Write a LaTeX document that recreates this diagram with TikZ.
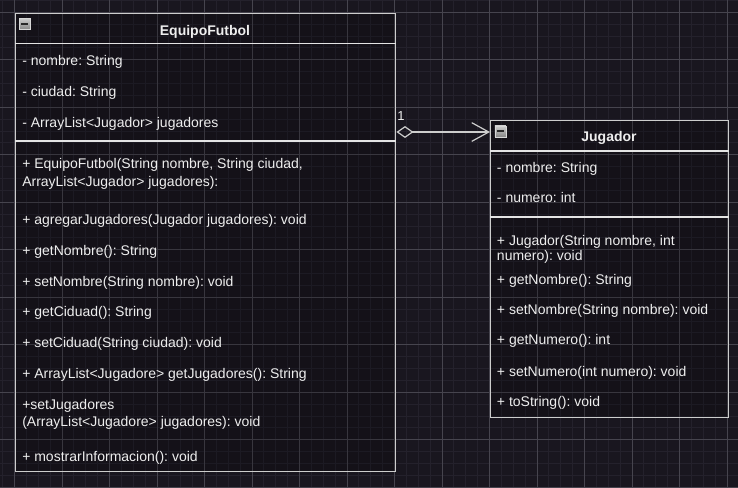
\documentclass[tikz,border=0pt]{standalone}
\usepackage{fontspec}
\setmainfont{Liberation Sans}
\usetikzlibrary{arrows.meta}
\definecolor{bg}{RGB}{25,22,31}
\definecolor{gminor}{RGB}{36,33,44}
\definecolor{gmajor}{RGB}{70,68,78}
\definecolor{txt}{RGB}{238,238,238}
\definecolor{bord}{RGB}{205,205,205}
\definecolor{sepc}{RGB}{228,228,228}
\definecolor{iconfill}{RGB}{170,170,170}
\definecolor{iconbord}{RGB}{215,215,215}
\definecolor{icondash}{RGB}{40,40,40}
\frenchspacing
\begin{document}
\begin{tikzpicture}[x=0.75pt,y=-0.75pt,
  minorline/.style={draw=gminor, line width=0.75pt},
  majorline/.style={draw=gmajor, line width=0.6pt},
  classbox/.style={rectangle, draw=bord, line width=1.1pt, fill=black, fill opacity=0.2, text opacity=1, inner sep=0pt, anchor=north west},
  sepline/.style={draw=sepc, line width=1.1pt},
  member/.style={anchor=base west, inner sep=0pt, text=txt, font=\fontsize{10.5pt}{12.6pt}\selectfont},
  ctitle/.style={anchor=base, inner sep=0pt, text=txt, font=\fontsize{10.5pt}{12.6pt}\selectfont\bfseries},
  minusicon/.style={rectangle, draw=iconbord, line width=0.5pt, top color=iconfill!60!white, bottom color=iconfill!80!black, minimum width=8.25pt, minimum height=8.25pt, inner sep=0pt, anchor=north west,
    path picture={\draw[icondash, line width=1.3pt] ([xshift=1.6pt]path picture bounding box.west) -- ([xshift=-1.6pt]path picture bounding box.east);}},
  assoc/.style={draw=bord, line width=0.9pt, {Diamond[open, length=12.75pt, width=9pt, line width=0.9pt]}-{Straight Barb[length=12.75pt, width=14pt, line width=0.9pt]}},
  mult/.style={anchor=base west, inner sep=0pt, text=txt, font=\fontsize{9.75pt}{11pt}\selectfont}
]
\useasboundingbox (0,0) rectangle (738,487);
\fill[bg] (0,0) rectangle (738,487);
% grid
\foreach \i in {-1,...,61} {\draw[minorline] ({14.5+\i*11.875},0) -- ({14.5+\i*11.875},487);}
\foreach \i in {-1,...,40} {\draw[minorline] (0,{12.3+\i*11.875}) -- (738,{12.3+\i*11.875});}
\foreach \i in {0,...,15} {\draw[majorline] ({14.5+\i*47.5},0) -- ({14.5+\i*47.5},487);}
\foreach \i in {0,...,10} {\draw[majorline] (0,{12.3+\i*47.5}) -- (738,{12.3+\i*47.5});}

% ---------- EquipoFutbol ----------
\node[classbox, minimum width=285pt, minimum height=343.5pt] (equipo) at (15,13) {};
\node[minusicon] (iconA) at (19,18) {};
\node[ctitle] (tA) at (205,35) {EquipoFutbol};
\draw[sepline] (equipo.west |- 0,43.5) -- (equipo.east |- 0,43.5);
\node[member] (a1) at (22,65.3) {- nombre: String};
\node[member] (a2) at (22,96.3) {- ciudad: String};
\node[member] (a3) at (22,127.3) {- ArrayList<Jugador> jugadores};
\draw[sepline] (equipo.west |- 0,141) -- (equipo.east |- 0,141);
\node[member] (m1a) at (22,168.3) {+ EquipoFutbol(String nombre, String ciudad,};
\node[member] (m1b) at (22,186) {ArrayList<Jugador> jugadores):};
\node[member] (m2) at (22,224.6) {+ agregarJugadores(Jugador jugadores): void};
\node[member] (m3) at (22,255.3) {+ getNombre(): String};
\node[member] (m4) at (22,286) {+ setNombre(String nombre): void};
\node[member] (m5) at (22,316.7) {+ getCiduad(): String};
\node[member] (m6) at (22,347.3) {+ setCiduad(String ciudad): void};
\node[member] (m7) at (22,378.3) {+ ArrayList<Jugadore> getJugadores(): String};
\node[member] (m8a) at (22,409.3) {+setJugadores};
\node[member] (m8b) at (22,426.7) {(ArrayList<Jugadore> jugadores): void};
\node[member] (m9) at (22,461.7) {+ mostrarInformacion(): void};

% ---------- Jugador ----------
\node[classbox, minimum width=178.5pt, minimum height=222.4pt] (jugador) at (490,120) {};
\node[minusicon] (iconB) at (494.5,125.5) {};
\node[ctitle] (tB) at (609,141) {Jugador};
\draw[sepline] (jugador.west |- 0,151) -- (jugador.east |- 0,151);
\node[member] (b1) at (496.7,172.7) {- nombre: String};
\node[member] (b2) at (496.7,202.7) {- numero: int};
\draw[sepline] (jugador.west |- 0,217) -- (jugador.east |- 0,217);
\node[member] (n1a) at (496.7,245) {+ Jugador(String nombre, int};
\node[member] (n1b) at (496.7,260.7) {numero): void};
\node[member] (n2) at (496.7,284) {+ getNombre(): String};
\node[member] (n3) at (496.7,314.3) {+ setNombre(String nombre): void};
\node[member] (n4) at (496.7,344.3) {+ getNumero(): int};
\node[member] (n5) at (496.7,376.7) {+ setNumero(int numero): void};
\node[member] (n6) at (496.7,406.7) {+ toString(): void};

% ---------- association ----------
\coordinate (ly) at (0,132);
\draw[assoc] (equipo.east |- ly) -- (jugador.west |- ly);
\node[mult] (one) at (397,120) {1};
\end{tikzpicture}
\end{document}
